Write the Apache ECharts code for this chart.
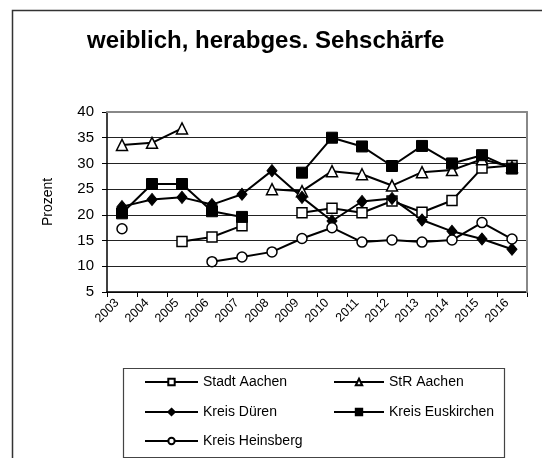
<!DOCTYPE html>
<html>
<head>
<meta charset="utf-8">
<script src="https://cdn.jsdelivr.net/npm/echarts@6/dist/echarts.min.js"></script>
<style>
  html, body { margin: 0; padding: 0; background: #fff; }
  #chart { width: 542px; height: 458px; }
</style>
</head>
<body>
<div id="chart"></div>
<script>
// Jahre (Kategorien der x-Achse)
const years = ['2003', '2004', '2005', '2006', '2007', '2008', '2009',
               '2010', '2011', '2012', '2013', '2014', '2015', '2016'];

// Anteil in Prozent je Region; null = kein Wert für das Jahr
const stadtAachen     = [null, null, 14.8, 15.7, 17.9, null, 20.4, 21.3, 20.4, 22.7, 20.5, 22.8, 29.1, 29.6];
const strAachen       = [33.6, 34.0, 36.8, null, null, 25.0, 24.6, 28.5, 27.9, 25.7, 28.3, 28.7, 30.8, 29.3];
const kreisDueren     = [21.6, 23.0, 23.4, 22.0, 24.0, 28.6, 23.4, 18.8, 22.6, 23.2, 19.0, 16.8, 15.3, 13.3];
const kreisEuskirchen = [20.3, 26.0, 26.0, 20.7, 19.6, null, 28.2, 35.0, 33.3, 29.5, 33.4, 30.0, 31.6, 29.0];
const kreisHeinsberg  = [17.3, null, null, 10.9, 11.8, 12.8, 15.4, 17.5, 14.7, 15.1, 14.7, 15.1, 18.5, 15.3];

// y-Achse: Wertebereich und Schrittweite
const yMin = 5, yMax = 40, yStep = 5;

const FONT = '"Liberation Sans", Arial, sans-serif';

const openStyle = { color: '#fff', borderColor: '#000', borderWidth: 1.5 };
const fullStyle = { color: '#000', borderColor: '#000', borderWidth: 1 };

function lineSeries(name, data, symbol, size, itemStyle) {
  return {
    name, type: 'line', data,
    symbol, symbolSize: size,
    showAllSymbol: true,
    connectNulls: false,
    lineStyle: { color: '#000', width: 2 },
    itemStyle,
    emphasis: { disabled: true },
    animation: false
  };
}

function legendEntry(name, left, top, itemWidth) {
  return {
    data: [name], left, top, padding: 0,
    itemWidth, itemHeight: 8, selectedMode: false,
    textStyle: { fontFamily: FONT, fontSize: 14, color: '#000' }
  };
}

const chart = echarts.init(document.getElementById('chart'), null, { renderer: 'canvas' });

chart.setOption({
  backgroundColor: '#fff',
  animation: false,
  title: {
    text: 'weiblich, herabges. Sehschärfe',
    left: 87, top: 29, padding: 0,
    textStyle: { fontFamily: FONT, fontSize: 24, fontWeight: 'bold', color: '#000' }
  },
  graphic: [
    // Rahmen des Diagrammbereichs
    { type: 'rect', shape: { x: 12.5, y: 10.5, width: 700, height: 700 },
      style: { fill: null, stroke: '#333', lineWidth: 1.5 }, silent: true, z: -1 },
    // Rahmen der Legende
    { type: 'rect', shape: { x: 123.5, y: 368.5, width: 381, height: 89 },
      style: { fill: null, stroke: '#444', lineWidth: 1.2 }, silent: true }
  ],
  legend: [
    legendEntry('Stadt Aachen', 144, 375, 53),
    legendEntry('StR Aachen', 333, 375, 50),
    legendEntry('Kreis Düren', 144, 405, 53),
    legendEntry('Kreis Euskirchen', 333, 405, 50),
    legendEntry('Kreis Heinsberg', 144, 434, 53)
  ],
  grid: { left: 107, top: 112, right: 15, bottom: 166 },
  xAxis: [
    {
      type: 'category', data: years, boundaryGap: true,
      axisLine: { lineStyle: { color: '#000', width: 1.5 } },
      axisTick: { show: true, length: 5, inside: false, lineStyle: { color: '#000', width: 1 } },
      axisLabel: { rotate: 45, margin: 4, padding: [0, 7, 0, 0], fontFamily: FONT, fontSize: 12.5, color: '#000' },
      splitLine: { show: false }
    },
    {
      type: 'category', data: years, position: 'top', z: 3,
      axisLine: { lineStyle: { color: '#888', width: 2 } },
      axisTick: { show: false }, axisLabel: { show: false }, splitLine: { show: false }
    }
  ],
  yAxis: [
    {
      type: 'value', min: yMin, max: yMax, interval: yStep,
      name: 'Prozent', nameLocation: 'middle', nameGap: 52, nameRotate: 90,
      nameTextStyle: { fontFamily: FONT, fontSize: 14, color: '#000' },
      axisLine: { show: true, lineStyle: { color: '#000', width: 1.5 } },
      axisTick: { show: true, length: 5, lineStyle: { color: '#000', width: 1 } },
      axisLabel: { margin: 13, fontFamily: FONT, fontSize: 15, color: '#000' },
      splitLine: { show: true, lineStyle: { color: '#222', width: 1 } }
    },
    {
      type: 'value', min: yMin, max: yMax, interval: yStep, position: 'right', z: 3,
      axisLine: { show: true, lineStyle: { color: '#888', width: 2 } },
      axisTick: { show: false }, axisLabel: { show: false }, splitLine: { show: false }
    }
  ],
  series: [
    lineSeries('Stadt Aachen', stadtAachen, 'rect', 10, openStyle),
    lineSeries('StR Aachen', strAachen, 'triangle', 11, openStyle),
    lineSeries('Kreis Düren', kreisDueren, 'diamond', [10, 12], fullStyle),
    lineSeries('Kreis Euskirchen', kreisEuskirchen, 'rect', 11, fullStyle),
    lineSeries('Kreis Heinsberg', kreisHeinsberg, 'circle', 10, openStyle)
  ]
});
</script>
</body>
</html>
